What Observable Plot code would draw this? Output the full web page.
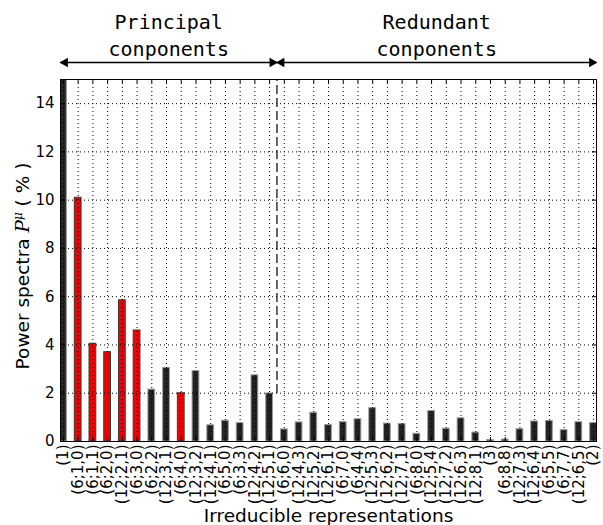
<!DOCTYPE html>
<html><head><meta charset="utf-8">
<script src="https://cdn.jsdelivr.net/npm/d3@7"></script>
<script src="https://cdn.jsdelivr.net/npm/@observablehq/plot@0.6"></script>
<style>body{margin:0;background:#fff}</style>
</head><body><div id="chart"></div>
<script>
const categories = ["(1)","(6;1,0)","(6;1,1)","(6;2,0)","(12;2,1)","(6;3,0)","(6;2,2)","(12;3,1)","(6;4,0)","(12;3,2)","(12;4,1)","(6;5,0)","(6;3,3)","(12;4,2)","(12;5,1)","(6;6,0)","(12;4,3)","(12;5,2)","(12;6,1)","(6;7,0)","(6;4,4)","(12;5,3)","(12;6,2)","(12;7,1)","(6;8,0)","(12;5,4)","(12;7,2)","(12;6,3)","(12;8,1)","(3)","(6;8,8)","(12;7,3)","(12;6,4)","(6;5,5)","(6;7,7)","(12;6,5)","(2)"];
const values = [16.5,10.1,4.05,3.7,5.85,4.6,2.15,3.05,2.0,2.92,0.67,0.86,0.76,2.74,1.99,0.5,0.79,1.19,0.68,0.8,0.92,1.38,0.74,0.72,0.32,1.26,0.53,0.96,0.37,0.06,0.08,0.51,0.83,0.85,0.47,0.8,0.76];
const highlighted = ["(6;1,0)","(6;1,1)","(6;2,0)","(12;2,1)","(6;3,0)","(6;4,0)"];
const lastPrincipal = "(12;5,1)";
const yTicks = [0,2,4,6,8,10,12,14];
const yDomain = [0,15];
const groupLine1 = ["Principal","Redundant"];
const groupLine2 = ["conponents","conponents"];
const xLabel = "Irreducible representations";
const yLabelParts = ["Power spectra ","P","\u03bc"," ( % )"];

const W = 603, H = 525, mL = 60, mR = 7, mT = 79, mB = 84;
const fh = H - mT - mB, fw = W - mL - mR;
const xDomain = [-0.2, categories.length - 1 + 0.2];
const half = 0.23;
const data = categories.map((c,i)=>({i, c, v: values[i], red: highlighted.includes(c)}));
const idx = d3.range(categories.length);
const split = categories.indexOf(lastPrincipal) + 0.5;
const bounds = [[xDomain[0], split],[split, xDomain[1]]];
const groups = bounds.map((b,k)=>({a:b[0], b:b[1], m:(b[0]+b[1])/2, l1: groupLine1[k], l2: groupLine2[k]}));

const plot = Plot.plot({
  width: W, height: H, marginLeft: mL, marginRight: mR, marginTop: mT, marginBottom: mB,
  style: {fontFamily: "DejaVu Sans", fontSize: "15px", background: "white", overflow: "visible", color: "black"},
  x: {type: "linear", domain: xDomain, ticks: idx, tickFormat: i => categories[i], tickRotate: -90, tickSize: 0, tickPadding: 3, label: null},
  y: {domain: yDomain, ticks: yTicks, tickSize: 0, tickPadding: 6, label: null},
  marks: [
    Plot.rect(data.filter(d=>!d.red), {x1: d=>d.i-half, x2: d=>d.i+half, y1: 0, y2: "v", fill: "#232323", stroke: "#9a9a9a", strokeWidth: 1, clip: true}),
    Plot.rect(data.filter(d=>d.red), {x1: d=>d.i-half, x2: d=>d.i+half, y1: 0, y2: "v", fill: "#f20000", stroke: "#3a3a3a", strokeWidth: 1, clip: true}),
    Plot.ruleX(idx, {stroke: "#000", strokeDasharray: "1,3", strokeWidth: 1}),
    Plot.ruleY(yTicks.filter(t=>t>0), {stroke: "#000", strokeDasharray: "1,3", strokeWidth: 1}),
    Plot.tickX(idx, {x: d=>d, insetTop: fh-4, stroke: "#000"}),
    Plot.tickX(idx, {x: d=>d, insetBottom: fh-4, stroke: "#000"}),
    Plot.tickY(yTicks, {y: d=>d, insetRight: fw-4, stroke: "#000"}),
    Plot.tickY(yTicks, {y: d=>d, insetLeft: fw-4, stroke: "#000"}),
    Plot.frame({stroke: "#000"}),
    Plot.ruleX([split], {y1: yDomain[0], y2: yDomain[1], insetTop: -48, stroke: "#000", strokeDasharray: "9,4", strokeWidth: 1.2}),
    Plot.ruleY([yDomain[1]], {dy: -17, stroke: "#000", strokeWidth: 1.3}),
    Plot.dot(groups, {x: "b", frameAnchor: "top", dy: -17, dx: -4.6, symbol: "triangle", r: 3.6, rotate: 90, fill: "#000", stroke: "none"}),
    Plot.dot(groups, {x: "a", frameAnchor: "top", dy: -17, dx: 4.6, symbol: "triangle", r: 3.6, rotate: -90, fill: "#000", stroke: "none"}),
    Plot.text(groups, {x: "m", text: "l1", frameAnchor: "top", lineAnchor: "middle", dy: -57, fontFamily: "DejaVu Sans Mono", fontSize: 20, fill: "#000"}),
    Plot.text(groups, {x: "m", text: "l2", frameAnchor: "top", lineAnchor: "middle", dy: -30, fontFamily: "DejaVu Sans Mono", fontSize: 20, fill: "#000"}),
    Plot.text([xLabel], {text: d=>d, frameAnchor: "bottom", lineAnchor: "middle", dy: 75, fontSize: 18.5, fill: "#000"})
  ]
});
document.getElementById("chart").appendChild(plot);

const t = d3.select(plot).append("text")
  .attr("transform", "translate(23,266) rotate(-90)")
  .attr("text-anchor", "middle").attr("dy", "0.32em")
  .attr("font-family", "DejaVu Sans").attr("font-size", 18.5).attr("fill", "#000");
t.append("tspan").text(yLabelParts[0]);
t.append("tspan").attr("font-family", "DejaVu Serif").attr("font-style", "italic").text(yLabelParts[1]);
t.append("tspan").attr("font-family", "DejaVu Serif").attr("font-style", "italic").attr("font-size", 12).attr("baseline-shift", "55%").text(yLabelParts[2]);
t.append("tspan").text(yLabelParts[3]);
</script>
</body></html>
